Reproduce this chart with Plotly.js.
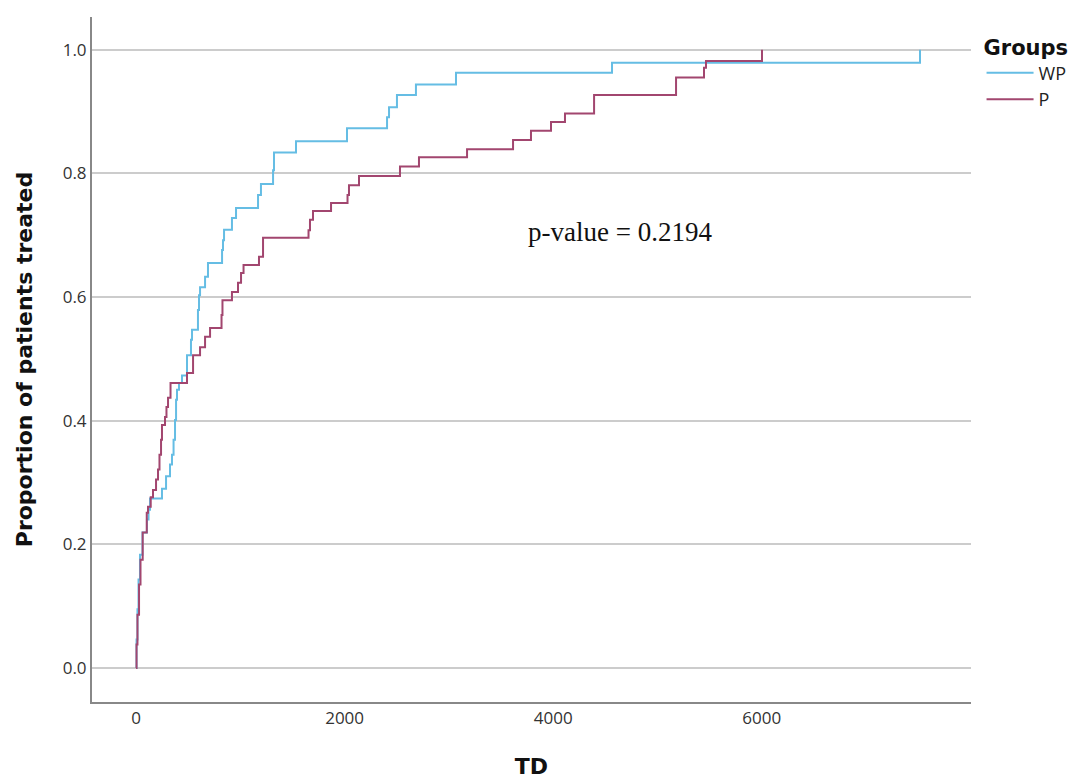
<!DOCTYPE html>
<html>
<head>
<meta charset="utf-8">
<script src="https://cdn.plot.ly/plotly-3.0.1.min.js"></script>
<style>html,body{margin:0;padding:0;background:#fff;}#chart{width:1089px;height:782px;}</style>
</head>
<body>
<div id="chart"></div>
<script>
// Kaplan-Meier style cumulative proportion (step function)
const groupNames = ["WP", "P"];
const wpTime = [0, 5, 14, 24, 38, 62, 105, 120, 134, 249, 288, 326, 345, 360, 374, 384, 393, 412, 441, 489, 527, 537, 594, 604, 614, 662, 690, 825, 834, 844, 920, 959, 1170, 1198, 1314, 1323, 1534, 2023, 2407, 2426, 2502, 2684, 3068, 4564, 7517];
const wpProp = [0, 0.046, 0.095, 0.143, 0.183, 0.219, 0.240, 0.256, 0.274, 0.290, 0.310, 0.329, 0.345, 0.369, 0.401, 0.434, 0.450, 0.461, 0.473, 0.506, 0.531, 0.547, 0.579, 0.603, 0.616, 0.633, 0.655, 0.676, 0.692, 0.709, 0.728, 0.744, 0.765, 0.783, 0.805, 0.834, 0.852, 0.873, 0.891, 0.907, 0.927, 0.944, 0.963, 0.979, 1.0];
const pTime = [0, 5, 14, 29, 43, 64, 103, 115, 141, 163, 192, 211, 225, 240, 249, 278, 292, 307, 331, 489, 547, 614, 662, 710, 820, 829, 920, 978, 1007, 1031, 1179, 1218, 1654, 1668, 1697, 1870, 2028, 2042, 2138, 2531, 2713, 3174, 3615, 3787, 3979, 4113, 4392, 5178, 5446, 5465, 6002];
const pProp = [0, 0.038, 0.086, 0.135, 0.175, 0.219, 0.251, 0.261, 0.276, 0.288, 0.305, 0.321, 0.345, 0.369, 0.393, 0.406, 0.422, 0.437, 0.461, 0.477, 0.506, 0.519, 0.536, 0.550, 0.571, 0.595, 0.608, 0.623, 0.639, 0.652, 0.665, 0.696, 0.708, 0.725, 0.739, 0.752, 0.765, 0.781, 0.796, 0.811, 0.826, 0.839, 0.854, 0.869, 0.883, 0.897, 0.927, 0.955, 0.971, 0.982, 1.0];
const xTicks = [0, 2000, 4000, 6000];
const yTicks = [0, 0.2, 0.4, 0.6, 0.8, 1.0];
const yTickLabels = ["0.0", "0.2", "0.4", "0.6", "0.8", "1.0"];
const pValueText = "p-value = 0.2194";

const font = "'Open Sans', 'Noto Sans', sans-serif";
const titleFont = "'DejaVu Sans', 'Open Sans', sans-serif";
const traces = [
  {x: wpTime, y: wpProp, name: groupNames[0], type: "scatter", mode: "lines",
   line: {shape: "hv", color: "#65bde4", width: 2}},
  {x: pTime, y: pProp, name: groupNames[1], type: "scatter", mode: "lines",
   line: {shape: "hv", color: "#a2466f", width: 2}}
];
const layout = {
  width: 1089, height: 782,
  margin: {l: 92, r: 118, t: 17, b: 80},
  paper_bgcolor: "#fff", plot_bgcolor: "#fff",
  font: {family: font, color: "#333", size: 17},
  showlegend: true,
  legend: {
    x: 1.012, xanchor: "left", y: 0.985, yanchor: "top",
    title: {text: "<b>Groups</b>", font: {size: 21, color: "#111", family: titleFont}},
    font: {size: 18, color: "#222", family: font},
    tracegroupgap: 0, itemwidth: 47, bgcolor: "rgba(0,0,0,0)"
  },
  xaxis: {
    range: [-422, 8006], tickvals: xTicks, ticktext: xTicks.map(String),
    showgrid: false, zeroline: false, showline: true, linecolor: "#888", linewidth: 2,
    ticks: "", tickfont: {size: 17, color: "#333"},
    title: {text: "<b>TD</b>", font: {size: 22, color: "#111", family: titleFont}, standoff: 30}
  },
  yaxis: {
    range: [-0.055, 1.053], tickvals: yTicks, ticktext: yTickLabels,
    showgrid: true, gridcolor: "#cccccc", gridwidth: 2,
    zeroline: false, showline: true, linecolor: "#888", linewidth: 2,
    ticks: "", tickfont: {size: 17, color: "#333"},
    title: {text: "<b>Proportion of patients treated</b>", font: {size: 22, color: "#111", family: titleFont}, standoff: 24}
  },
  annotations: [{
    xref: "paper", yref: "paper", x: 0.6007, y: 0.686, xanchor: "center", yanchor: "middle",
    text: pValueText, showarrow: false,
    font: {family: "'Liberation Serif', 'DejaVu Serif', serif", size: 27, color: "#111"}
  }]
};
Plotly.newPlot("chart", traces, layout, {displayModeBar: false, staticPlot: true});
</script>
</body>
</html>
